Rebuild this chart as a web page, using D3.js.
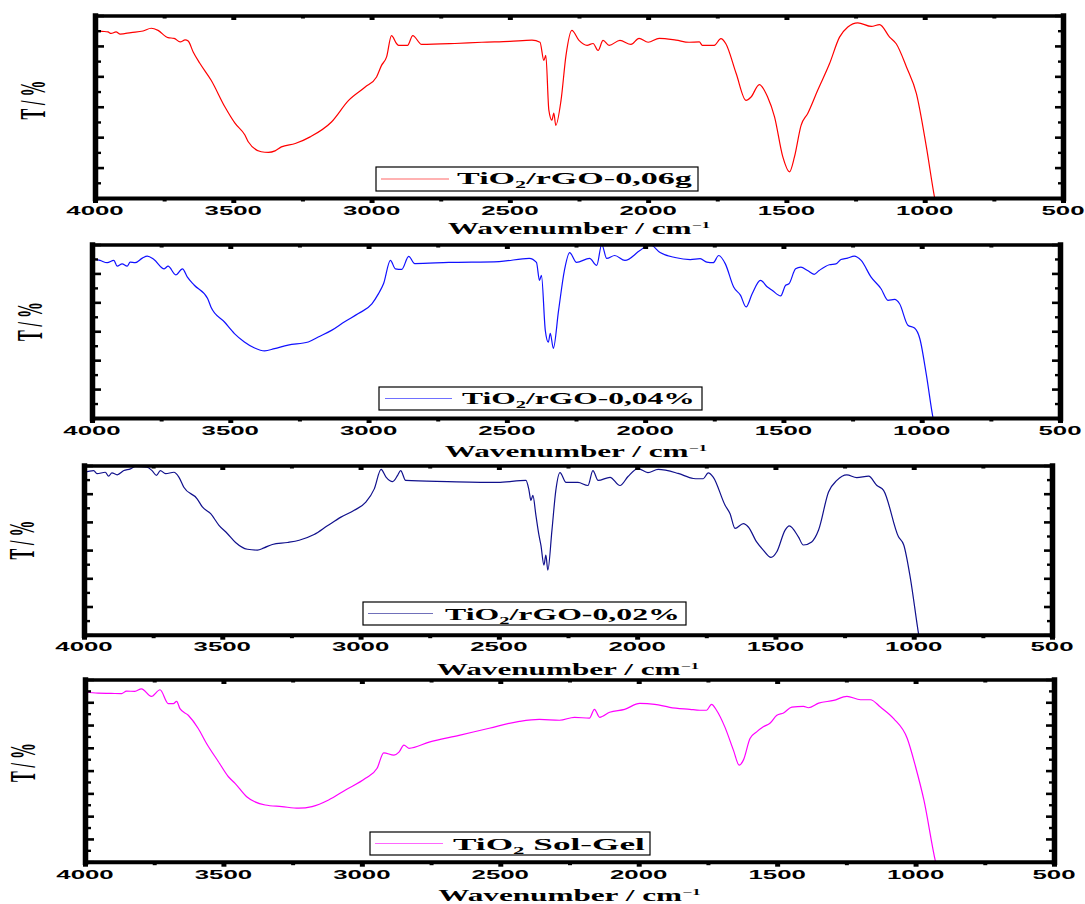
<!DOCTYPE html>
<html><head><meta charset="utf-8">
<script src="https://cdn.jsdelivr.net/npm/d3@7"></script>
<style>
body{margin:0;background:#fff;}
svg{display:block;}
</style></head><body>
<svg id="chart" width="1085" height="904"></svg>
<script>
// ---------- data ----------
const xTickValues = [4000, 3500, 3000, 2500, 2000, 1500, 1000, 500];
const xMinorValues = [3750, 3250, 2750, 2250, 1750, 1250, 750];
const xAxisTitle = "Wavenumber / cm";
const xAxisTitleSup = "\u22121";
const yAxisTitle = "T / %";
const legendPrefix = "TiO";
const legendSub = "2";
const legendSuffixes = ["/rGO-0,06g", "/rGO-0,04%", "/rGO-0,02%", " Sol-Gel"];
const yMaxima = [60, 60, 60, 80];

const rgo006 = [[4000,55.1],[3975,54.8],[3953,54.6],[3942,54.1],[3924,54.6],[3909,53.9],[3870,54.4],[3826,54.9],[3797,55.8],[3772,55.1],[3736,52.7],[3714,52.5],[3692,51.3],[3674,52.0],[3663,51.6],[3645,48.0],[3621,44.3],[3580,38.7],[3530,29.9],[3494,24.6],[3458,20.7],[3446,18.5],[3399,15.2],[3373,15.0],[3349,15.5],[3326,16.8],[3276,17.9],[3222,20.1],[3145,25.0],[3083,32.1],[3023,36.5],[2982,39.8],[2964,43.6],[2946,46.3],[2928,53.4],[2909,50.7],[2902,50.2],[2870,50.2],[2851,53.4],[2819,50.5],[2699,50.8],[2601,51.2],[2500,51.5],[2420,51.9],[2391,51.2],[2377,45.2],[2370,46.9],[2359,28.9],[2348,25.6],[2341,27.9],[2334,23.9],[2315,32.1],[2297,46.9],[2276,55.1],[2250,51.8],[2221,50.2],[2199,50.8],[2181,48.5],[2163,51.8],[2141,50.2],[2102,51.8],[2062,50.5],[2033,52.5],[2000,51.2],[1960,52.5],[1899,51.9],[1852,51.2],[1815,51.3],[1804,50.2],[1761,50.2],[1737,52.4],[1719,50.7],[1682,41.0],[1646,32.1],[1628,33.2],[1598,37.3],[1568,33.2],[1543,26.7],[1513,13.5],[1489,8.6],[1471,13.5],[1447,23.9],[1423,27.8],[1387,35.4],[1344,44.2],[1308,52.9],[1278,56.2],[1242,57.6],[1193,56.4],[1163,57.0],[1127,52.9],[1103,50.7],[1066,43.1],[1030,34.3],[994,16.8],[964,0],[955,-4]];

const rgo004 = [[4000,55.1],[3971,54.5],[3945,53.7],[3921,54.5],[3909,52.5],[3891,53.3],[3873,52.5],[3862,53.9],[3844,53.7],[3818,55.3],[3800,56.0],[3776,54.8],[3739,51.6],[3725,52.5],[3697,49.5],[3673,51.6],[3655,48.7],[3630,45.9],[3582,41.3],[3570,38.4],[3521,33.2],[3485,29.2],[3449,26.3],[3412,24.2],[3376,23.2],[3340,24.0],[3291,25.2],[3218,26.3],[3182,28.0],[3134,30.3],[3085,33.4],[3037,36.1],[2988,39.5],[2964,43.0],[2946,46.4],[2921,54.5],[2903,51.6],[2880,51.4],[2855,55.9],[2833,53.4],[2710,53.8],[2528,54.1],[2419,55.2],[2393,53.8],[2382,47.6],[2375,49.3],[2361,30.3],[2350,26.2],[2343,29.3],[2332,24.1],[2313,37.2],[2292,51.0],[2273,57.2],[2248,53.8],[2201,55.2],[2175,52.8],[2157,60.0],[2139,55.2],[2110,56.2],[2073,54.5],[2019,57.9],[1983,60.0],[1946,57.2],[1892,55.5],[1837,54.8],[1801,55.1],[1777,53.9],[1754,53.7],[1734,56.2],[1710,53.3],[1680,45.3],[1655,42.4],[1635,38.4],[1613,43.0],[1583,47.6],[1558,45.3],[1540,44.1],[1510,42.2],[1492,45.9],[1480,46.4],[1456,51.6],[1437,52.2],[1413,51.0],[1389,49.7],[1371,51.0],[1334,53.0],[1310,53.3],[1292,54.8],[1268,55.3],[1244,56.0],[1219,54.5],[1183,48.7],[1147,44.7],[1122,40.7],[1098,41.0],[1080,39.5],[1050,32.1],[1026,31.1],[1007,27.5],[983,14.8],[959,0],[950,-4]];

const rgo002 = [[3999,57.6],[3965,58.2],[3953,57.1],[3923,57.6],[3911,56.2],[3899,57.4],[3880,56.7],[3856,58.2],[3832,58.8],[3814,59.7],[3772,59.4],[3754,58.2],[3738,56.5],[3724,58.2],[3705,57.1],[3675,57.6],[3657,55.9],[3639,52.3],[3591,48.2],[3572,45.3],[3542,42.9],[3512,38.8],[3482,35.9],[3452,32.7],[3409,30.3],[3373,30.0],[3349,30.8],[3319,32.0],[3264,32.7],[3222,33.5],[3168,35.5],[3120,38.6],[3071,41.7],[3023,44.1],[2981,47.0],[2950,51.8],[2926,58.6],[2908,55.9],[2884,54.3],[2866,56.5],[2855,58.2],[2837,54.7],[2685,54.3],[2504,54.0],[2402,54.7],[2391,51.2],[2384,47.6],[2377,49.4],[2366,42.3],[2355,35.3],[2348,31.8],[2337,24.7],[2330,28.2],[2323,22.9],[2308,37.1],[2294,51.2],[2279,57.5],[2257,54.0],[2214,54.0],[2178,52.9],[2160,58.2],[2141,54.7],[2098,55.8],[2062,52.9],[2033,56.1],[1997,58.9],[1961,57.5],[1924,58.6],[1852,57.2],[1797,55.4],[1779,55.3],[1761,55.3],[1743,57.4],[1725,55.9],[1682,45.9],[1664,42.9],[1646,37.7],[1616,39.4],[1598,38.2],[1568,32.9],[1544,30.0],[1516,27.4],[1495,29.4],[1465,37.1],[1450,38.6],[1417,34.7],[1399,31.8],[1369,32.9],[1344,37.1],[1308,50.6],[1278,54.7],[1242,56.7],[1206,55.7],[1163,56.2],[1133,52.9],[1109,51.2],[1055,34.7],[1036,31.8],[1012,20.0],[982,0],[975,-4]];

const solgel = [[3999,74.5],[3953,74.0],[3906,73.9],[3868,73.8],[3850,74.9],[3820,74.8],[3796,75.9],[3760,72.6],[3729,75.5],[3699,69.4],[3681,69.4],[3669,70.4],[3657,67.2],[3627,64.3],[3591,58.5],[3561,51.9],[3518,43.9],[3482,37.3],[3458,34.4],[3416,28.5],[3349,24.9],[3289,24.2],[3228,23.5],[3180,24.2],[3120,27.1],[3059,31.5],[2987,36.6],[2945,41.0],[2921,47.8],[2884,46.8],[2866,48.1],[2848,51.2],[2830,49.8],[2757,52.5],[2649,55.5],[2540,58.6],[2431,61.6],[2359,62.5],[2286,62.1],[2232,63.4],[2178,63.0],[2160,66.9],[2141,63.4],[2105,65.6],[2051,66.9],[1996,69.5],[1942,69.1],[1888,67.8],[1815,66.9],[1779,66.5],[1755,66.5],[1737,69.1],[1719,66.5],[1689,59.2],[1658,49.0],[1637,42.4],[1622,44.6],[1598,54.1],[1574,57.0],[1550,59.2],[1525,60.9],[1501,64.3],[1477,65.3],[1447,67.9],[1405,68.2],[1387,67.6],[1350,69.6],[1296,70.8],[1248,72.6],[1199,71.1],[1163,71.1],[1127,67.9],[1079,62.8],[1030,54.1],[1000,41.7],[970,27.1],[928,0],[920,-4]];

const spectra = [rgo006, rgo004, rgo002, solgel];

// ---------- layout / style ----------
const colors = ["#ff0000", "#1010ff", "#10108c", "#ff00ff"];
const panels = [
  {left:95, right:1063, top:15.5, bottom:198, labX:45, labY:100, tickY:215, titleY:234,
   leg:{x:376, y:167, w:322, h:24, l0:381, l1:449, tx:457, ty:183.5, tw:235}},
  {left:92, right:1060, top:244.5, bottom:418, labX:42, labY:321.5, tickY:434.5, titleY:457,
   leg:{x:379, y:387, w:323, h:23, l0:385, l1:452, tx:462, ty:403.5, tw:233}},
  {left:84, right:1052, top:465.5, bottom:634.7, labX:33.5, labY:540, tickY:650.5, titleY:675,
   leg:{x:363, y:602, w:323, h:23, l0:368, l1:433, tx:445, ty:619.5, tw:235}},
  {left:85, right:1054, top:679.5, bottom:861.7, labX:35, labY:762.5, tickY:878.5, titleY:901,
   leg:{x:370, y:832, w:280, h:23, l0:375, l1:443, tx:453, ty:849.5, tw:192}}
];
const SERIF = "'Liberation Serif','Times New Roman',serif";
const SANS = "'Liberation Sans',Arial,sans-serif";
const SX_SERIF = 1.95;
const SX_YLAB = 2.3;
const SX_SANS = 2.15;

const svg = d3.select("#chart");
const defs = svg.append("defs");

panels.forEach((p, i) => {
  const x = d3.scaleLinear().domain([4000, 500]).range([p.left, p.right]);
  const yMax = yMaxima[i];
  const y = d3.scaleLinear().domain([0, yMax]).range([p.bottom, p.top]);
  const yMajor = d3.range(0, yMax + 0.1, 10);
  const yMinor = d3.range(5, yMax, 10);
  const g = svg.append("g");

  defs.append("clipPath").attr("id", "clip" + i).append("rect")
    .attr("x", p.left).attr("y", p.top)
    .attr("width", p.right - p.left).attr("height", p.bottom - p.top);

  // spectrum
  g.append("path").datum(spectra[i])
    .attr("clip-path", `url(#clip${i})`)
    .attr("fill", "none").attr("stroke", colors[i]).attr("stroke-width", 1.2)
    .attr("stroke-linejoin", "round")
    .attr("d", d3.line().x(d => x(d[0])).y(d => y(d[1])).curve(d3.curveMonotoneX));

  const styleAxis = (sel, domainW, tickW) => {
    sel.select(".domain").attr("stroke", "#000").attr("stroke-width", domainW).attr("stroke-linecap", "square");
    sel.selectAll(".tick line").attr("stroke", "#000").attr("stroke-width", tickW);
    sel.selectAll(".tick text").remove();
  };

  // left axis
  g.append("g").attr("transform", `translate(${p.left},0)`)
    .call(d3.axisLeft(y).tickValues(yMinor).tickSizeInner(-6).tickSizeOuter(0).tickFormat(""))
    .call(s => styleAxis(s, 0, 2.4));
  g.append("g").attr("transform", `translate(${p.left},0)`)
    .call(d3.axisLeft(y).tickValues(yMajor).tickSizeInner(-9).tickSizeOuter(0).tickFormat(""))
    .call(s => styleAxis(s, 5.5, 2.6));
  // right axis
  g.append("g").attr("transform", `translate(${p.right},0)`)
    .call(d3.axisRight(y).tickValues(yMinor).tickSizeInner(-5).tickSizeOuter(0).tickFormat(""))
    .call(s => styleAxis(s, 0, 2.4));
  g.append("g").attr("transform", `translate(${p.right},0)`)
    .call(d3.axisRight(y).tickValues(yMajor).tickSizeInner(-8).tickSizeOuter(0).tickFormat(""))
    .call(s => styleAxis(s, 5.5, 2.6));
  // top axis
  g.append("g").attr("transform", `translate(0,${p.top})`)
    .call(d3.axisTop(x).tickValues(xMinorValues).tickSizeInner(-3).tickSizeOuter(0).tickFormat(""))
    .call(s => styleAxis(s, 0, 4));
  g.append("g").attr("transform", `translate(0,${p.top})`)
    .call(d3.axisTop(x).tickValues(xTickValues).tickSizeInner(-4.5).tickSizeOuter(0).tickFormat(""))
    .call(s => styleAxis(s, 3.5, 5));
  // bottom axis
  g.append("g").attr("transform", `translate(0,${p.bottom})`)
    .call(d3.axisBottom(x).tickValues(xMinorValues).tickSizeInner(3.5).tickSizeOuter(0).tickFormat(""))
    .call(s => styleAxis(s, 0, 4));
  g.append("g").attr("transform", `translate(0,${p.bottom})`)
    .call(d3.axisBottom(x).tickValues(xTickValues).tickSizeInner(5).tickSizeOuter(0).tickFormat(""))
    .call(s => styleAxis(s, 4, 5));

  // tick labels (stretched like the original export)
  g.selectAll(".xlab").data(xTickValues).enter().append("text")
    .attr("transform", d => `translate(${x(d)},${p.tickY}) scale(${SX_SANS},1)`)
    .attr("text-anchor", "middle")
    .attr("font-family", SANS).attr("font-weight", "bold").attr("font-size", 12)
    .attr("fill", "#000")
    .text(d => d);

  // x title
  const xt = g.append("text")
    .attr("transform", `translate(${(p.left + p.right) / 2},${p.titleY}) scale(${SX_SERIF},1)`)
    .attr("text-anchor", "middle")
    .attr("font-family", SERIF).attr("font-weight", "bold").attr("font-size", 16)
    .attr("fill", "#000");
  xt.append("tspan").text(xAxisTitle);
  xt.append("tspan").attr("font-size", 9).attr("dy", -6).text(xAxisTitleSup);

  // y title
  g.append("text")
    .attr("transform", `translate(${p.labX},${p.labY}) scale(${SX_YLAB},1) rotate(-90)`)
    .attr("text-anchor", "middle")
    .attr("font-family", SERIF).attr("font-weight", "bold").attr("font-size", 16)
    .attr("fill", "#000")
    .text(yAxisTitle);

  // legend
  const L = p.leg;
  g.append("rect").attr("x", L.x).attr("y", L.y).attr("width", L.w).attr("height", L.h)
    .attr("fill", "#fff").attr("stroke", "#000").attr("stroke-width", 1.2);
  g.append("line").attr("x1", L.l0).attr("x2", L.l1)
    .attr("y1", L.y + L.h / 2).attr("y2", L.y + L.h / 2)
    .attr("stroke", colors[i]).attr("stroke-width", 1.2).attr("stroke-opacity", 0.6);
  const lt = g.append("text")
    .attr("font-family", SERIF).attr("font-weight", "bold").attr("font-size", 17)
    .attr("fill", "#000");
  lt.append("tspan").text(legendPrefix);
  lt.append("tspan").attr("font-size", 11).attr("dy", 4).text(legendSub);
  lt.append("tspan").attr("dy", -4).text(legendSuffixes[i]);
  const natural = lt.node().getComputedTextLength() || 115;
  lt.attr("transform", `translate(${L.tx},${L.ty}) scale(${L.tw / natural},1)`);
});
</script>
</body></html>
